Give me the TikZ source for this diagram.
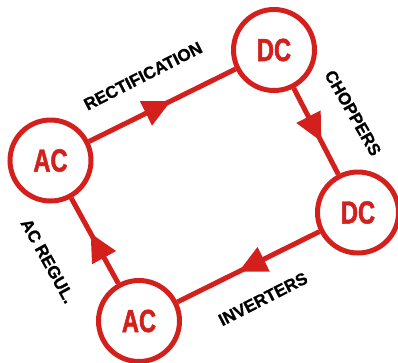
\documentclass[tikz,border=0pt]{standalone}
\usepackage{fontspec}
\setmainfont{Liberation Sans}
\newfontfamily\circfont[UprightFont={* Bold},FakeStretch=0.74,FakeBold=1.5]{Liberation Sans}
\newfontfamily\labfont[UprightFont={* Bold},FakeBold=1]{Liberation Sans}
\usetikzlibrary{arrows.meta,decorations.markings}
\definecolor{cred}{RGB}{212,32,28}
\tikzset{
  conv/.style={circle,draw=cred,line width=5pt,minimum size=81pt,inner sep=0pt,
    font=\circfont\fontsize{32}{32}\selectfont,text=cred},
  flow/.style={draw=cred,line width=5pt,
    postaction={decorate,decoration={markings,
      mark=at position #1 with {\arrow[cred]{Triangle[length=28pt,width=26pt]}}}}},
  lab/.style={font=\labfont\fontsize{17}{17}\selectfont,text=black,inner sep=0pt}
}
\begin{document}
\begin{tikzpicture}[x=1pt,y=-1pt]
\useasboundingbox (0,0) rectangle (398,362);
\node[conv] (ac1) at (50.5,160.5) {AC};
\node[conv] (dc1) at (274,50) {DC};
\node[conv] (dc2) at (358,212.5) {DC};
\node[conv] (ac2) at (139,321) {AC};
\path[flow=0.56] (ac1) -- (dc1);
\path[flow=0.62] (dc1) -- (dc2);
\path[flow=0.57] (dc2) -- (ac2);
\path[flow=0.59] (ac2) -- (ac1);
\node[lab,rotate=27] (l1) at (143,76) {RECTIFICATION};
\node[lab,rotate=-60] (l2) at (353,113) {CHOPPERS};
\node[lab,rotate=27] (l3) at (263,299) {INVERTERS};
\node[lab,rotate=-61] (l4) at (48,261) {AC REGUL.};
\end{tikzpicture}
\end{document}
